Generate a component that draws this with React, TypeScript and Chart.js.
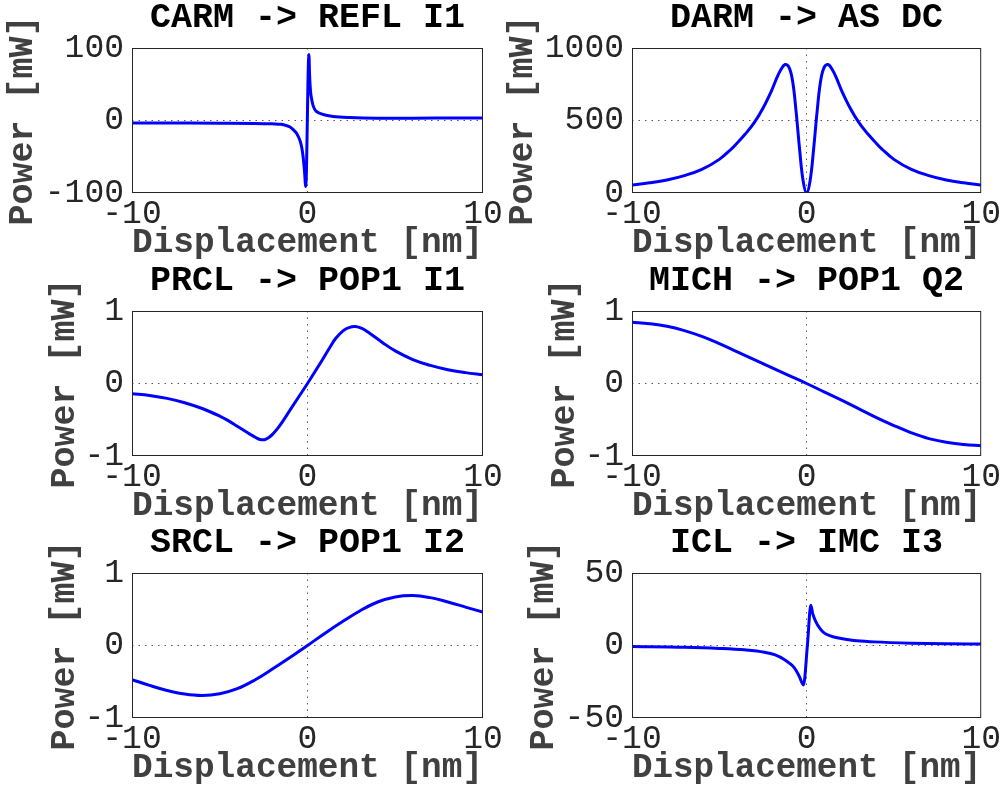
import React, { useEffect, useRef } from "react";
import { Chart, registerables } from "chart.js";

Chart.register(...registerables);

// ---------- data ----------
const X_TICKS = [-10, 0, 10];

const CARM_X = [-10, -7, -5, -3, -2, -1.5, -1.2, -1, -0.8, -0.6, -0.44, -0.33, -0.25, -0.17, -0.1, 0.08, 0.12, 0.17, 0.24, 0.32, 0.45, 0.7, 1, 1.46, 2.4, 4, 6, 8, 10];
const CARM_Y = [-3.6, -3.6, -3.7, -4, -4.6, -5.2, -7, -9, -13, -18.5, -27, -37, -50, -70, -91, 91, 62, 41, 29, 20.5, 14, 10, 7.5, 5.5, 4, 3.2, 3.2, 3.4, 3.6];
const CARM_YTICKS = [-100, 0, 100];

const DARM_X = [-10, -9, -8, -7, -6, -5, -4.3, -4, -3.5, -3, -2.5, -2, -1.7, -1.5, -1.23, -1, -0.8, -0.6, -0.4, -0.2, 0, 0.2, 0.4, 0.6, 0.8, 1, 1.23, 1.5, 1.7, 2, 2.5, 3, 3.5, 4, 4.3, 5, 6, 7, 8, 9, 10];
const DARM_Y = [55, 70, 90, 120, 163, 232, 305, 342, 408, 485, 585, 708, 795, 845, 886, 865, 770, 560, 300, 85, 0, 85, 300, 560, 770, 865, 886, 845, 795, 708, 585, 485, 408, 342, 305, 232, 163, 120, 90, 70, 55];
const DARM_YTICKS = [0, 500, 1000];

const PRCL_X = [-10, -9, -8, -7, -6, -5, -4.5, -4, -3.5, -3.2, -2.95, -2.7, -2.45, -2.2, -1.95, -1.7, -1.45, -1.19, -0.6, 0, 0.6, 1.28, 1.6, 2.04, 2.4, 2.73, 3.1, 3.5, 4.3, 5, 6, 7, 8, 9, 10];
const PRCL_Y = [-0.14, -0.165, -0.205, -0.265, -0.345, -0.45, -0.515, -0.59, -0.665, -0.71, -0.745, -0.772, -0.775, -0.745, -0.69, -0.62, -0.535, -0.44, -0.22, 0, 0.23, 0.5, 0.62, 0.73, 0.775, 0.785, 0.76, 0.7, 0.56, 0.45, 0.33, 0.25, 0.19, 0.15, 0.12];
const PRCL_YTICKS = [-1, 0, 1];

const MICH_X = [-10, -9, -8, -7, -6, -5, -4, -3, -2, -1, 0, 1, 2, 3, 4, 5, 6, 7, 8, 9, 10];
const MICH_Y = [0.845, 0.825, 0.79, 0.73, 0.65, 0.55, 0.44, 0.33, 0.22, 0.11, 0, -0.115, -0.23, -0.35, -0.47, -0.58, -0.68, -0.76, -0.81, -0.84, -0.86];
const MICH_YTICKS = [-1, 0, 1];

const SRCL_X = [-10, -9, -8, -7, -6, -5, -4, -3, -2, -1, 0, 1, 2, 3, 4, 5, 6, 7, 8, 9, 10];
const SRCL_Y = [-0.47, -0.55, -0.62, -0.67, -0.69, -0.665, -0.595, -0.475, -0.325, -0.165, 0, 0.17, 0.33, 0.48, 0.6, 0.67, 0.69, 0.66, 0.6, 0.53, 0.46];
const SRCL_YTICKS = [-1, 0, 1];

const ICL_X = [-10, -7, -5, -3.56, -2.42, -1.8, -1.28, -0.95, -0.71, -0.43, -0.18, 0.05, 0.24, 0.35, 0.52, 0.75, 1, 1.4, 1.76, 2.7, 3.85, 6, 8, 10];
const ICL_Y = [-0.7, -1.2, -2, -3, -4.6, -6.5, -9.6, -12.5, -15.3, -21, -27.2, 0.7, 27.7, 22, 16.7, 12, 8.7, 6.5, 5.3, 3.4, 2.5, 1.6, 1.2, 1];
const ICL_YTICKS = [-50, 0, 50];

const TITLES = ["CARM -> REFL I1", "DARM -> AS DC", "PRCL -> POP1 I1", "MICH -> POP1 Q2", "SRCL -> POP1 I2", "ICL -> IMC I3"];
const X_LABEL = "Displacement [nm]";
const Y_LABEL = "Power [mW]";

const SERIES_X = [CARM_X, DARM_X, PRCL_X, MICH_X, SRCL_X, ICL_X];
const SERIES_Y = [CARM_Y, DARM_Y, PRCL_Y, MICH_Y, SRCL_Y, ICL_Y];
const Y_TICKS = [CARM_YTICKS, DARM_YTICKS, PRCL_YTICKS, MICH_YTICKS, SRCL_YTICKS, ICL_YTICKS];
// panels with sharp spikes use monotone interpolation, the smooth ones a bezier tension
const SPIKY = [true, false, false, false, false, true];

// ---------- layout ----------
const FONT = "'Liberation Mono', 'DejaVu Sans Mono', monospace";
const COL_LEFT = [0, 500];
const COL_WIDTH = [520, 506];
const ROW_TOP = [0, 263, 525];
const CANVAS_H = 262;
const AXIS_W = 132;
const AXIS_H = 69;
const PLOT_W = 351;
const YLABEL_CENTER = [23, 23, 65, 65, 65, 44];
const TICK_SIZE = 33;
const LABEL_SIZE = 35;
const TITLE_SIZE = 35;

const boxPlugin = {
  id: "boxPlugin",
  afterDraw(chart: any) {
    const { ctx, chartArea } = chart;
    ctx.save();
    ctx.strokeStyle = "#262626";
    ctx.lineWidth = 1;
    ctx.strokeRect(chartArea.left + 0.5, chartArea.top + 0.5, chartArea.right - chartArea.left - 1, chartArea.bottom - chartArea.top - 1);
    ctx.restore();
  },
};

function makeConfig(i: number): any {
  const col = i % 2;
  const yt = Y_TICKS[i];
  const xs = SERIES_X[i];
  const ys = SERIES_Y[i];
  const lo = yt[0];
  const hi = yt[yt.length - 1];
  const gridColor = (lo0: number, hi0: number) => (ctx: any) =>
    ctx.tick && (ctx.tick.value === lo0 || ctx.tick.value === hi0) ? "rgba(0,0,0,0)" : "#5a5a5a";
  const dataset: any = {
    data: xs.map((x, k) => ({ x, y: ys[k] })),
    borderColor: "#0000ff",
    borderWidth: 3,
    pointRadius: 0,
    fill: false,
  };
  if (SPIKY[i]) dataset.cubicInterpolationMode = "monotone";
  else dataset.tension = 0.4;
  return {
    type: "line",
    data: { datasets: [dataset] },
    options: {
      responsive: false,
      animation: false,
      events: [],
      layout: { padding: { left: 0, top: 0, bottom: 0, right: COL_WIDTH[col] - AXIS_W - PLOT_W } },
      plugins: {
        legend: { display: false },
        tooltip: { enabled: false },
        title: {
          display: true,
          text: TITLES[i],
          fullSize: false,
          color: "#000",
          font: { family: FONT, size: TITLE_SIZE, weight: "bold", lineHeight: 0.8 },
          padding: { top: 4, bottom: 16 },
        },
      },
      scales: {
        x: {
          type: "linear",
          min: -10,
          max: 10,
          afterBuildTicks: (s: any) => {
            s.ticks = X_TICKS.map((v) => ({ value: v }));
          },
          afterFit: (s: any) => {
            s.height = AXIS_H;
          },
          ticks: {
            color: "#262626",
            font: { family: FONT, size: TICK_SIZE, lineHeight: 1 },
            padding: 5,
            maxRotation: 0,
            autoSkip: false,
            callback: (v: any) => String(v),
          },
          grid: { drawTicks: false, color: gridColor(-10, 10), lineWidth: 1 },
          border: { display: false, dash: [1.5, 5] },
          title: {
            display: true,
            text: X_LABEL,
            color: "#404040",
            font: { family: FONT, size: LABEL_SIZE, weight: "bold", lineHeight: 1 },
            padding: { top: 0, bottom: 1 },
          },
        },
        y: {
          type: "linear",
          min: lo,
          max: hi,
          afterBuildTicks: (s: any) => {
            s.ticks = yt.map((v) => ({ value: v }));
          },
          afterFit: (s: any) => {
            s.width = AXIS_W;
          },
          ticks: {
            color: "#262626",
            font: { family: FONT, size: TICK_SIZE, lineHeight: 1 },
            padding: 8,
            autoSkip: false,
            callback: (v: any) => String(v),
          },
          grid: { drawTicks: false, color: gridColor(lo, hi), lineWidth: 1 },
          border: { display: false, dash: [1.5, 5] },
          title: {
            display: true,
            text: Y_LABEL,
            color: "#404040",
            font: { family: FONT, size: LABEL_SIZE, weight: "bold", lineHeight: 1 },
            padding: { top: YLABEL_CENTER[i] - LABEL_SIZE / 2, bottom: 0 },
          },
        },
      },
    },
    plugins: [boxPlugin],
  };
}

export default function App() {
  const refs = useRef<(HTMLCanvasElement | null)[]>([]);

  useEffect(() => {
    const charts: Chart[] = [];
    for (let i = 0; i < 6; i++) {
      const c = refs.current[i];
      if (c) charts.push(new Chart(c, makeConfig(i)));
    }
    return () => charts.forEach((ch) => ch.destroy());
  }, []);

  return (
    <div style={{ position: "absolute", left: 0, top: 0, width: 1006, height: 787, background: "#fff", overflow: "hidden" }}>
      {TITLES.map((t, i) => {
        const col = i % 2;
        const row = Math.floor(i / 2);
        return (
          <canvas
            key={t}
            ref={(el) => {
              refs.current[i] = el;
            }}
            width={COL_WIDTH[col]}
            height={CANVAS_H}
            style={{
              position: "absolute",
              left: COL_LEFT[col],
              top: ROW_TOP[row],
              width: COL_WIDTH[col],
              height: CANVAS_H,
            }}
          />
        );
      })}
    </div>
  );
}
